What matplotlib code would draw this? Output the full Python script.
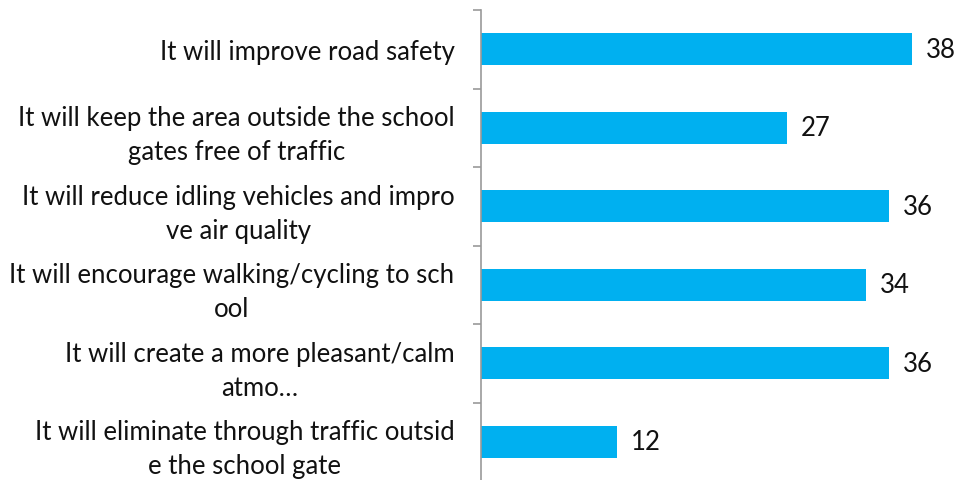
import matplotlib.pyplot as plt
import numpy as np

# Data
categories = [
    "It will improve road safety",
    "It will keep the area outside the school\ngates free of traffic",
    "It will reduce idling vehicles and impro\nve air quality",
    "It will encourage walking/cycling to sch\nool",
    "It will create a more pleasant/calm\natmo…",
    "It will eliminate through traffic outsid\ne the school gate",
]
values = [38, 27, 36, 34, 36, 12]

plt.rcParams['font.family'] = ['Lato', 'DejaVu Sans']

fig = plt.figure(figsize=(9.57, 4.81), dpi=100)
ax = fig.add_axes([481 / 957, -1 / 481, 476 / 957, 471 / 481])

y = np.arange(len(categories))
bars = ax.barh(y, values, height=0.41, color="#00B0F0")
ax.bar_label(bars, padding=10, fontsize=18.5, color="#111111")

ax.set_xlim(0, 42)
ax.set_ylim(len(categories) - 0.5, -0.5)

# Category labels, centered lines
ax.set_yticks(y)
ax.set_yticklabels(categories, fontsize=18.5, color="#111111", linespacing=1.45)
for lbl in ax.get_yticklabels():
    lbl.set_multialignment("center")
ax.tick_params(axis="y", which="major", length=0, pad=19)

# Boundary tick marks
ax.set_yticks(np.arange(-0.5, len(categories)), minor=True)
ax.tick_params(axis="y", which="minor", length=6, width=1.2, color="#999999")

ax.set_xticks([])
for s in ["top", "right", "bottom"]:
    ax.spines[s].set_visible(False)
ax.spines["left"].set_color("#999999")
ax.spines["left"].set_linewidth(1.2)

plt.savefig("out.png", dpi=100)
